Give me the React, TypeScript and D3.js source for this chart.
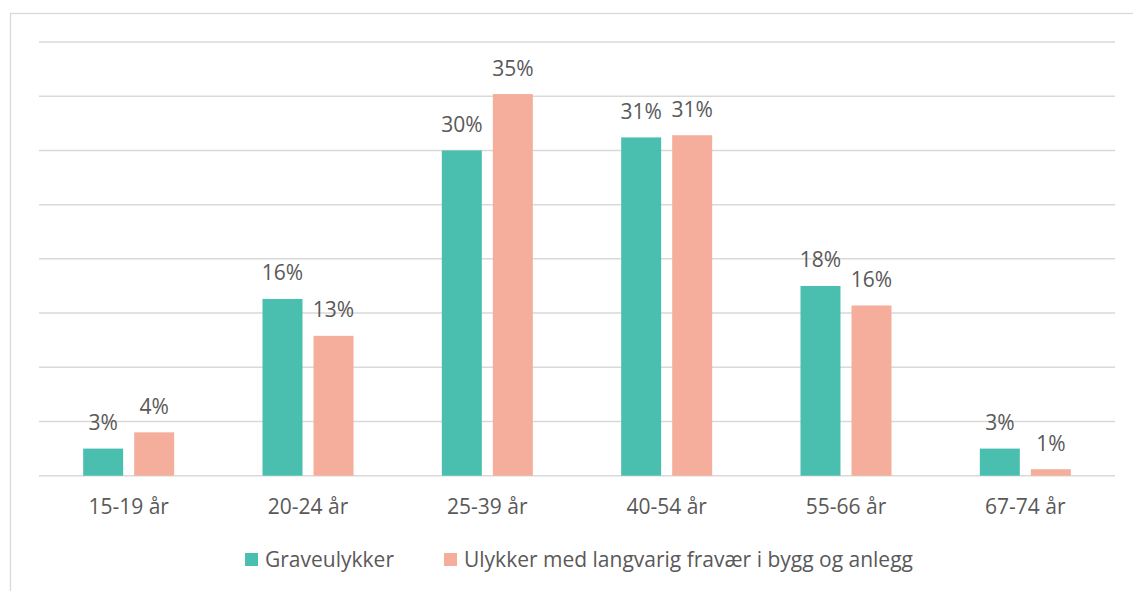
import { useEffect, useRef } from 'react';
import * as d3 from 'd3';

const categories = ['15-19 år', '20-24 år', '25-39 år', '40-54 år', '55-66 år', '67-74 år'];
const seriesNames = ['Graveulykker', 'Ulykker med langvarig fravær i bygg og anlegg'];
const graveulykker = [2.5, 16.3, 30.0, 31.2, 17.5, 2.5];
const langvarig = [4.0, 12.9, 35.2, 31.4, 15.7, 0.6];
const gridTicks = [0, 5, 10, 15, 20, 25, 30, 35, 40];
const colors = ['#4bbfaf', '#f4ae9b'];

const W = 1133;
const H = 591;
const FONT = '"Open Sans", sans-serif';
const TEXT = '#595959';

export default function App() {
  const svgRef = useRef<SVGSVGElement | null>(null);

  useEffect(() => {
    document.body.style.margin = '0';
    const svg = d3.select(svgRef.current);
    svg.selectAll('*').remove();

    const left = 39, right = 1115, top = 42, bottom = 475.7;

    // outer chart border
    svg.append('rect')
      .attr('x', 10.5).attr('y', 13.5).attr('width', 1140).attr('height', 600)
      .attr('fill', '#fff').attr('stroke', '#d9d9d9').attr('stroke-width', 1.3);

    const x0 = d3.scaleBand<string>().domain(categories).range([left, right]);
    const x1 = d3.scaleBand<number>().domain([0, 1]).range([-45.5, 45.5]).paddingInner(0.216);
    const y = d3.scaleLinear().domain([0, 40]).range([bottom, top]);

    // grid
    svg.append('g').selectAll('line').data(gridTicks).join('line')
      .attr('x1', left).attr('x2', right)
      .attr('y1', (d) => y(d)).attr('y2', (d) => y(d))
      .attr('stroke', '#d9d9d9').attr('stroke-width', 1.5);

    const series = [graveulykker, langvarig];
    series.forEach((vals, si) => {
      const g = svg.append('g');
      g.selectAll('rect').data(vals).join('rect')
        .attr('x', (d, i) => x0(categories[i])! + x0.bandwidth() / 2 + x1(si)!)
        .attr('width', x1.bandwidth())
        .attr('y', (d) => y(d))
        .attr('height', (d) => bottom - y(d))
        .attr('fill', colors[si]);
      g.selectAll('text').data(vals).join('text')
        .attr('x', (d, i) => x0(categories[i])! + x0.bandwidth() / 2 + x1(si)! + x1.bandwidth() / 2)
        .attr('y', (d) => y(d) - 18.5)
        .attr('text-anchor', 'middle')
        .attr('font-family', FONT).attr('font-size', 21).attr('fill', TEXT)
        .text((d) => `${Math.round(d)}%`);
    });

    // category labels
    svg.append('g').selectAll('text').data(categories).join('text')
      .attr('x', (d) => x0(d)! + x0.bandwidth() / 2)
      .attr('y', 514)
      .attr('text-anchor', 'middle')
      .attr('font-family', FONT).attr('font-size', 21).attr('fill', TEXT)
      .text((d) => d);

    // legend
    const lg = svg.append('g');
    const items = seriesNames.map((name, i) => {
      const it = lg.append('g');
      it.append('rect').attr('x', 0).attr('y', 553).attr('width', 13).attr('height', 13).attr('fill', colors[i]);
      const t = it.append('text').attr('x', 20).attr('y', 567)
        .attr('font-family', FONT).attr('font-size', 21).attr('fill', TEXT).text(name);
      return { it, w: 20 + (t.node() as SVGTextElement).getComputedTextLength() };
    });
    const gap = 50;
    const total = d3.sum(items, (d) => d.w) + gap * (items.length - 1);
    let cx = 579 - total / 2;
    items.forEach((d) => {
      d.it.attr('transform', `translate(${cx},0)`);
      cx += d.w + gap;
    });
  }, []);

  return <svg ref={svgRef} width={W} height={H} style={{ display: 'block' }} />;
}
